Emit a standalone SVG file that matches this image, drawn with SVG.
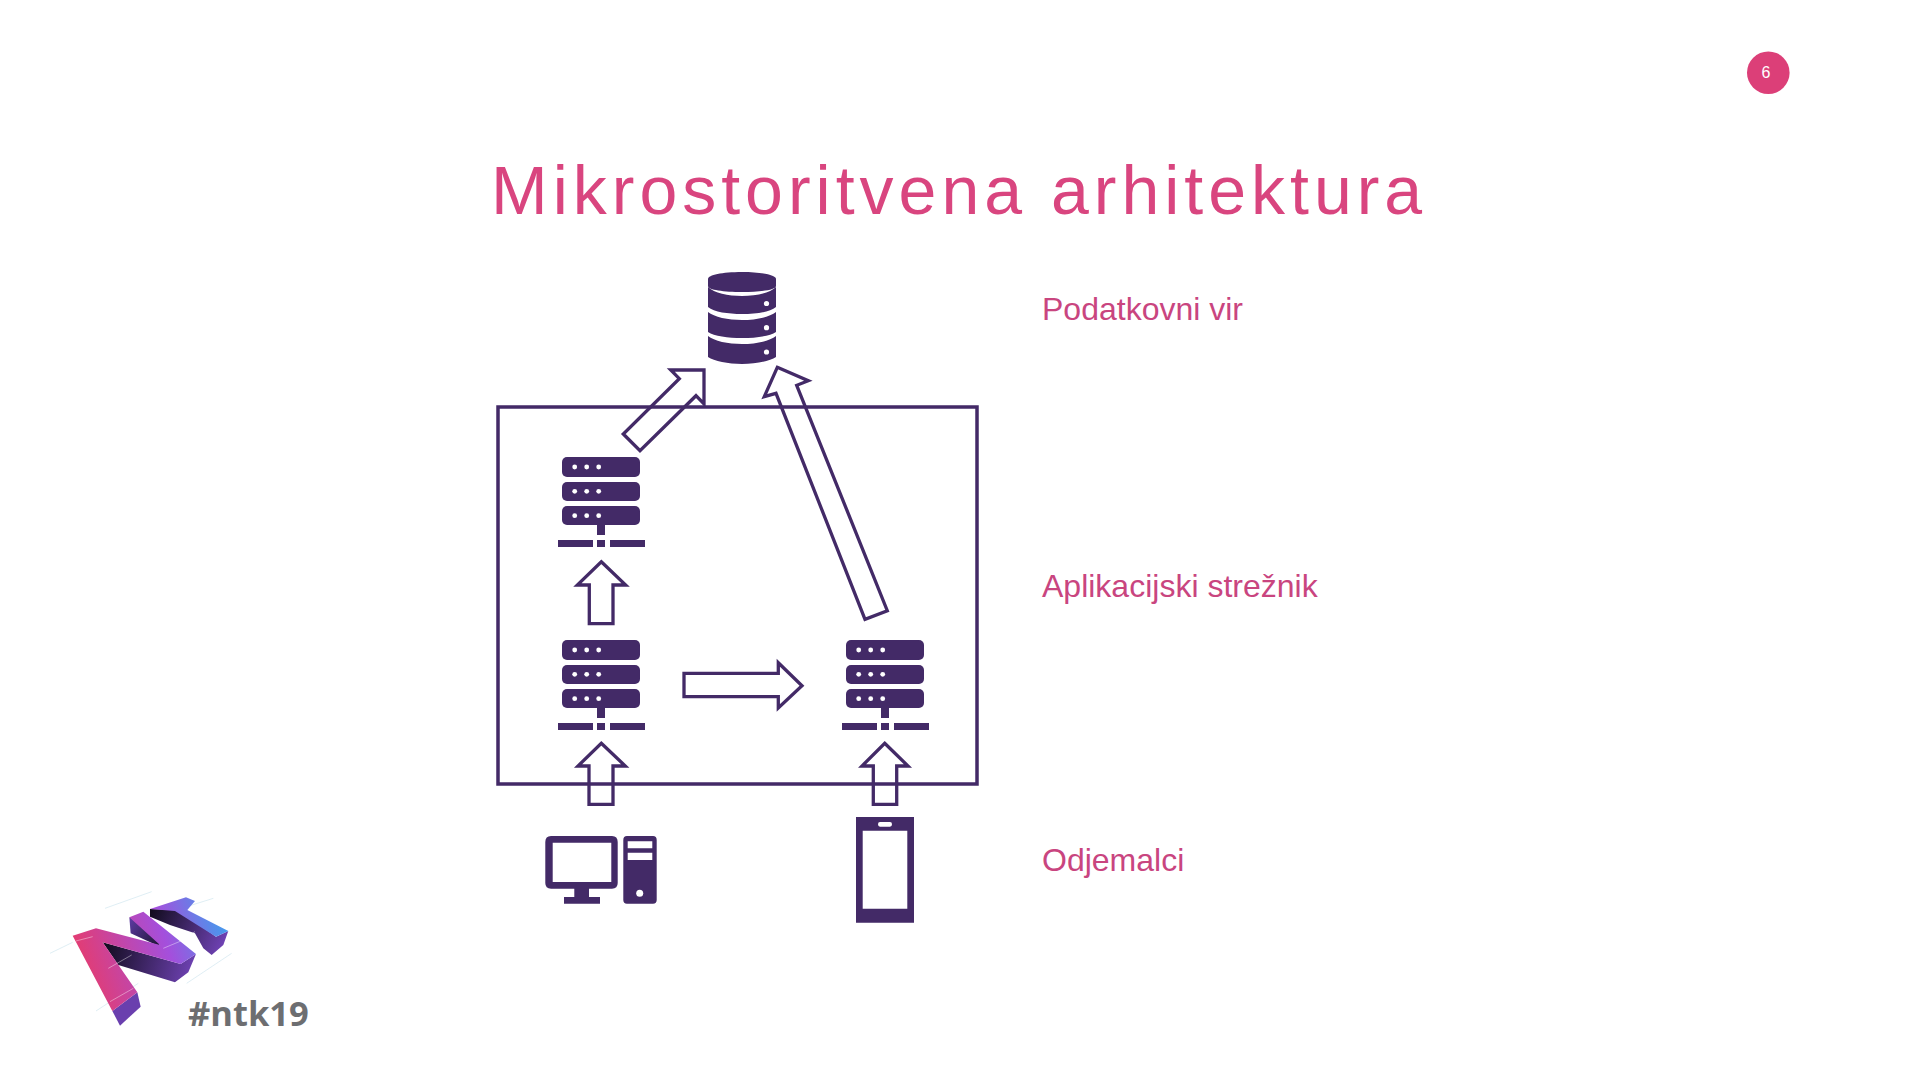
<svg xmlns="http://www.w3.org/2000/svg" width="1920" height="1080" viewBox="0 0 1920 1080">
<defs>
<linearGradient id="g1" gradientUnits="userSpaceOnUse" x1="38" y1="260" x2="505" y2="110"><stop offset="0" stop-color="#ea3a66"/><stop offset="0.6" stop-color="#a44fdc"/><stop offset="1" stop-color="#3f9fee"/></linearGradient>
<linearGradient id="g2" gradientUnits="userSpaceOnUse" x1="128" y1="190" x2="400" y2="260"><stop offset="0" stop-color="#120c1e"/><stop offset="1" stop-color="#6f42b4"/></linearGradient>
<linearGradient id="g3" gradientUnits="userSpaceOnUse" x1="270" y1="85" x2="490" y2="180"><stop offset="0" stop-color="#120c1e"/><stop offset="1" stop-color="#6f42b4"/></linearGradient>
<linearGradient id="g4" gradientUnits="userSpaceOnUse" x1="208" y1="110" x2="300" y2="180"><stop offset="0" stop-color="#5b3a9e"/><stop offset="1" stop-color="#1e1433"/></linearGradient>
<g id="server" fill="#432a67">
<rect x="562" y="457" width="78" height="20" rx="5"/>
<rect x="562" y="482" width="78" height="19" rx="5"/>
<rect x="562" y="506" width="78" height="19" rx="5"/>
<rect x="597" y="524" width="8" height="11"/>
<rect x="558" y="540" width="35" height="7"/>
<rect x="597" y="540" width="8" height="7"/>
<rect x="610" y="540" width="35" height="7"/>
<g fill="#fff"><circle cx="574.7" cy="467" r="2.4"/><circle cx="586.7" cy="467" r="2.4"/><circle cx="598.7" cy="467" r="2.4"/><circle cx="574.7" cy="491.3" r="2.4"/><circle cx="586.7" cy="491.3" r="2.4"/><circle cx="598.7" cy="491.3" r="2.4"/><circle cx="574.7" cy="515.7" r="2.4"/><circle cx="586.7" cy="515.7" r="2.4"/><circle cx="598.7" cy="515.7" r="2.4"/></g>
</g>
</defs>
<style>
.lbl{font-family:"Liberation Sans",Arial,sans-serif;font-size:32px;fill:#c9457f}
.arr{fill:none;stroke:#432a67;stroke-width:3.300;stroke-linejoin:miter}
.box{fill:none;stroke:#432a67;stroke-width:3.500}
.ink{fill:#432a67}
</style>
<rect width="1920" height="1080" fill="#fff"/>
<g id="page"><circle cx="1768.300" cy="72.700" r="21.300" fill="#dc3f78"/><text x="1766" y="78" font-family="'Liberation Sans',Arial,sans-serif" font-size="16" fill="#fff" text-anchor="middle">6</text></g>
<text id="title" x="491" y="214" font-family="'Liberation Sans',Arial,sans-serif" font-size="68" letter-spacing="5" fill="#d9457f">Mikrostoritvena arhitektura</text>
<g id="app-box"><rect class="box" x="498" y="407" width="479" height="377"/></g>
<g id="connectors">
<polygon class="arr" points="623.3,434 640,450.7 696,395.7 704,404 704,370 670.7,370 679.3,378.7"/>
<polygon class="arr" points="777.3,367.300 808.300,380.700 796.700,385.300 887.300,610.700 865,619.300 776,393.300 764.300,396.700"/>
<polygon class="arr" points="601.3,561.700 625.700,585 613,585 613,623.700 589.300,623.700 589.300,585 577.300,585"/>
<polygon class="arr" points="684,673.300 778.300,673.300 778.300,662.700 802,685.700 778.300,708 778.300,696.700 684,696.700"/>
<polygon class="arr" points="601.3,743.300 625.300,766 613,766 613,804.300 589,804.300 589,766 578,766"/>
<polygon class="arr" points="884.700,743.300 908,766 896.700,766 896.700,804.300 873.300,804.300 873.300,766 862,766"/>
</g>
<g id="database">
<path class="ink" d="M708 279C708 275 722 272 742 272S776 275 776 279V286C776 290 760 292 742 292S708 290 708 286Z"/>
<path class="ink" d="M708 287C714 293 728 296 742 296S770 293 776 287V307C770 312 756 314 742 314S714 312 708 307Z"/>
<path class="ink" d="M708 312C714 317 728 320 742 320S770 317 776 312V332C770 336 756 338 742 338S714 336 708 332Z"/>
<path class="ink" d="M708 336C714 341 728 344 742 344S770 341 776 336V357C770 361 756 364 742 364S714 361 708 357Z"/>
<g fill="#fff"><circle cx="766.500" cy="303.500" r="2.600"/><circle cx="766.500" cy="327.700" r="2.600"/><circle cx="766.500" cy="352" r="2.600"/></g>
</g>
<g id="server-top"><use href="#server"/></g>
<g id="server-left"><use href="#server" y="183"/></g>
<g id="server-right"><use href="#server" x="284" y="183"/></g>
<g id="desktop">
<path class="ink" fill-rule="evenodd" d="M551 836H612Q617.700 836 617.700 842V883Q617.700 888.700 612 888.700H589V897H600V903.700H564V897H574.300V888.700H551Q545.300 888.700 545.300 883V842Q545.300 836 551 836ZM552.700 842.700V882H611.300V842.700Z"/>
<path class="ink" fill-rule="evenodd" d="M627 836H653Q656.700 836 656.700 840V900Q656.700 903.700 653 903.700H627Q623.300 903.700 623.300 900V840Q623.300 836 627 836ZM627.700 841.300V848.300H652.300V841.300ZM627.700 852.700V860H652.300V852.700Z"/>
<circle cx="639.700" cy="893.300" r="3.500" fill="#fff"/>
</g>
<g id="phone">
<path class="ink" fill-rule="evenodd" d="M856 817H914V922.700H856ZM862.700 830.700V908.700H907.300V830.700ZM880 822Q878 822 878 824.300Q878 826.700 880 826.700H890Q892 826.700 892 824.300Q892 822 890 822Z"/>
</g>
<text id="lbl-data" class="lbl" x="1042" y="320">Podatkovni vir</text>
<text id="lbl-app" class="lbl" x="1042" y="597">Aplikacijski strežnik</text>
<text id="lbl-client" class="lbl" x="1042" y="871">Odjemalci</text>
<g id="logo" transform="translate(60,885) scale(0.3333)">
<g fill="none" stroke="#cfe6ee" stroke-width="2"><path d="M-30 205L38 172"/><path d="M135 70L275 20"/><path d="M380 65L460 40"/><path d="M380 295L515 205"/><path d="M108 378L235 295"/></g>
<polygon fill="url(#g4)" points="208,97 212,145 300,185 290,140"/>
<polygon fill="url(#g2)" points="128,172 362,237 408,207 385,262 345,292 175,240"/>
<polygon fill="url(#g3)" points="270,72 355,75 468,155 505,138 490,180 455,210 430,190 405,145 330,120 270,95"/>
<polygon fill="#6a3fae" points="157,378 232,322 242,365 180,422"/>
<polygon fill="url(#g1)" points="38,152 108,130 300,180 208,97 250,80 408,207 362,237 128,172 232,322 157,378"/>
<polygon fill="url(#g1)" points="270,72 378,37 405,48 382,75 505,138 468,155 345,78"/>
<g fill="none" stroke="#fff" stroke-opacity=".6" stroke-width="2"><path d="M48 168L98 155"/><path d="M150 350L220 310"/><path d="M145 250L215 210"/><path d="M310 190L370 165"/><path d="M380 155L405 140"/></g>
</g>
<text id="tag" x="188" y="1026" font-family="'Open Sans','Noto Sans',sans-serif" font-weight="700" font-size="34.500" fill="#6d6e71">#ntk19</text>
</svg>
